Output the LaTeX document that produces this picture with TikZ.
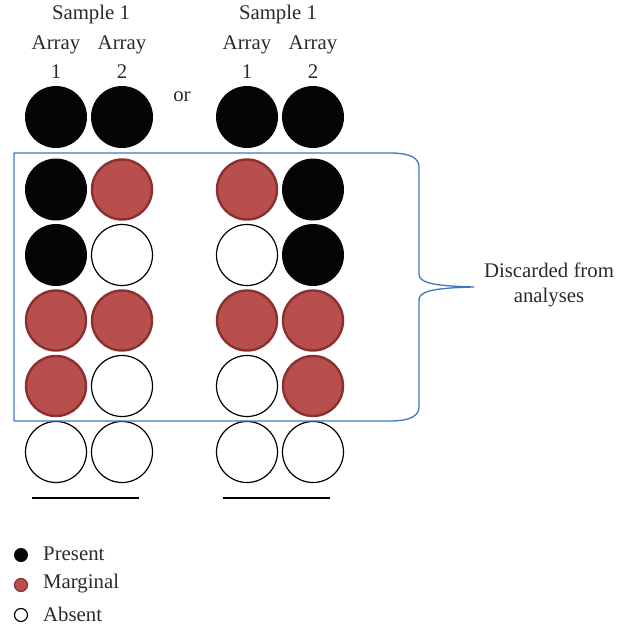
\documentclass[tikz,border=0pt]{standalone}
\usepackage{fontspec}
\setmainfont{Liberation Serif}
\definecolor{presentc}{HTML}{050505}
\definecolor{marg}{HTML}{B84F4D}
\definecolor{margedge}{HTML}{8A3030}
\definecolor{bracec}{HTML}{3B78C2}
\definecolor{txt}{HTML}{2A2A2A}
\begin{document}
\begin{tikzpicture}[x=1pt,y=-1pt,
  dot/.style={circle,minimum size=62pt,inner sep=0pt},
  pres/.style={dot,fill=presentc},
  margd/.style={dot,fill=marg,draw=margedge,line width=2.4pt,minimum size=60pt},
  absd/.style={dot,fill=white,draw=black,line width=1.2pt,minimum size=61pt},
  lbl/.style={inner sep=0pt,text=txt,font=\fontsize{20.8}{24}\selectfont},
  lpres/.style={circle,inner sep=0pt,minimum size=14pt,fill=presentc},
  lmarg/.style={circle,inner sep=0pt,minimum size=13pt,fill=marg,draw=margedge,line width=1.2pt},
  labs/.style={circle,inner sep=0pt,minimum size=13pt,fill=white,draw=black,line width=1.2pt}]
\useasboundingbox (0,0) rectangle (619,627);
% headers
\node[lbl] (s1) at (91,14) {Sample 1};
\node[lbl] (s2) at (278,14) {Sample 1};
\node[lbl] (a11) at (56,45) {Array};
\node[lbl] (a12) at (122,45) {Array};
\node[lbl] (a21) at (247,45) {Array};
\node[lbl] (a22) at (313,45) {Array};
\node[lbl] (n11) at (56,72) {1};
\node[lbl] (n12) at (122,72) {2};
\node[lbl] (n21) at (247,72) {1};
\node[lbl] (n22) at (313,72) {2};
\node[lbl] (or) at (182,97) {or};
% row 1
\node[pres] (r1a) at (56,117) {};
\node[pres] (r1b) at (122,117) {};
\node[pres] (r1c) at (247,117) {};
\node[pres] (r1d) at (313,117) {};
% row 2
\node[pres] (r2a) at (56,189.5) {};
\node[margd] (r2b) at (122,189.5) {};
\node[margd] (r2c) at (247,189.5) {};
\node[pres] (r2d) at (313,189.5) {};
% row 3
\node[pres] (r3a) at (56,255) {};
\node[absd] (r3b) at (122,255) {};
\node[absd] (r3c) at (247,255) {};
\node[pres] (r3d) at (313,255) {};
% row 4
\node[margd] (r4a) at (56,320.5) {};
\node[margd] (r4b) at (122,320.5) {};
\node[margd] (r4c) at (247,320.5) {};
\node[margd] (r4d) at (313,320.5) {};
% row 5
\node[margd] (r5a) at (56,386) {};
\node[absd] (r5b) at (122,386) {};
\node[absd] (r5c) at (247,386) {};
\node[margd] (r5d) at (313,386) {};
% row 6
\node[absd] (r6a) at (56,452) {};
\node[absd] (r6b) at (122,452) {};
\node[absd] (r6c) at (247,452) {};
\node[absd] (r6d) at (313,452) {};
% underlines
\draw[line width=1.2pt] (32,498) -- (139,498);
\draw[line width=1.2pt] (223,498) -- (330,498);
% bracket
\draw[bracec,line width=1.3pt,line join=round]
  (390,153) -- (14,153) -- (14,421) -- (390,421)
  .. controls (410,421) and (419,416) .. (419,407)
  -- (419,300)
  .. controls (419,292) and (430,288) .. (474,287)
  .. controls (430,286) and (419,282) .. (419,274)
  -- (419,167)
  .. controls (419,158) and (410,153) .. (390,153);
\node[lbl,align=center] (disc) at (549,285) {Discarded from\\[1pt]analyses};
% legend
\node[lpres] (lp) at (21,555) {};
\node[lmarg] (lm) at (21,585) {};
\node[labs] (la) at (21,615) {};
\node[lbl,anchor=west] (tp) at (43,554) {Present};
\node[lbl,anchor=west] (tm) at (43,584) {Marginal};
\node[lbl,anchor=west] (ta) at (43,614) {Absent};
\end{tikzpicture}
\end{document}
